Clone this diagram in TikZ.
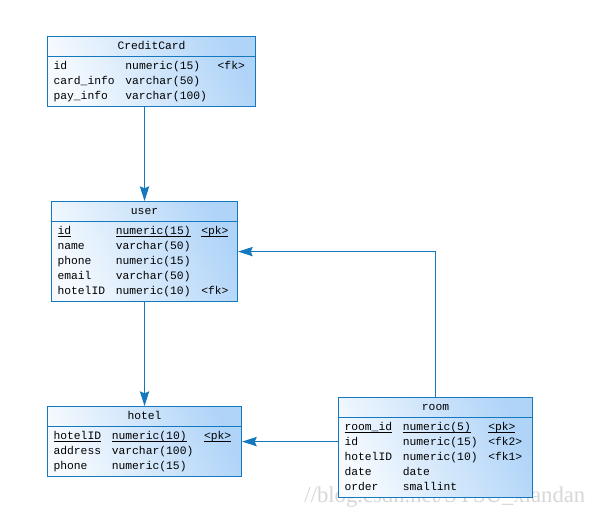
\documentclass[tikz,border=0pt]{standalone}
\usepackage{fontspec}
\setmonofont{Liberation Mono}
\newfontfamily\wmfont{Liberation Serif}
\definecolor{erline}{RGB}{20,120,190}
\definecolor{erfill}{RGB}{176,212,248}
\definecolor{erwm} {RGB}{215,215,215}
\usepackage{tikz}
\usetikzlibrary{arrows.meta,positioning,shapes.multipart}
\newcommand{\pk}[1]{\setbox0\hbox{#1}\rlap{\rule[-1.3pt]{\wd0}{0.5pt}}\box0}

\begin{document}
\begin{tikzpicture}[
        x=0.75pt, y=-0.75pt,
        every node/.style={font=\ttfamily\fontsize{8.5}{11.25}\selectfont},
        tbl/.style={rectangle split, rectangle split parts=2, draw=erline,
                    line width=0.8pt, left color=erfill!12!white, right color=erfill,
                    shading angle=115, anchor=north west,
                    rectangle split part align={center,left},
                    inner xsep=4.5pt, inner ysep=1.5pt},
        arr/.style={-{Stealth[length=11pt,width=7pt,inset=1.5pt]}, color=erline, line width=0.8pt}
      ]
        \useasboundingbox (0,0) rectangle (596,521);

        % watermark (behind the tables)
        \node[font=\wmfont\fontsize{17}{17}\selectfont, text=erwm, anchor=south east]
          (wm) at (590,512) {//blog.csdn.net/SYSU\_xiandan};

        % CreditCard
        \node[tbl, minimum width=156pt] (cc) at (47,36)
          {\strut CreditCard
           \nodepart{two}
           \begin{tabular}{@{}l@{\hspace{8pt}}l@{\hspace{8pt}}l@{}}
             id        & numeric(15)  & <fk> \\
             card\_info & varchar(50)  & \\
             pay\_info  & varchar(100) &
           \end{tabular}};

        % user
        \node[tbl, minimum width=139.5pt] (user) at (51,201)
          {\strut user
           \nodepart{two}
           \begin{tabular}{@{}l@{\hspace{8pt}}l@{\hspace{8pt}}l@{}}
             \pk{id}  & \pk{numeric(15)} & \pk{<pk>} \\
             name     & varchar(50) & \\
             phone    & numeric(15) & \\
             email    & varchar(50) & \\
             hotelID  & numeric(10) & <fk>
           \end{tabular}};

        % hotel
        \node[tbl, minimum width=145.5pt] (hotel) at (47,406)
          {\strut hotel
           \nodepart{two}
           \begin{tabular}{@{}l@{\hspace{8pt}}l@{\hspace{8pt}}l@{}}
             \pk{hotelID} & \pk{numeric(10)} & \pk{<pk>} \\
             address      & varchar(100) & \\
             phone        & numeric(15)  &
           \end{tabular}};

        % room
        \node[tbl, minimum width=145.5pt] (room) at (338,397)
          {\strut room
           \nodepart{two}
           \begin{tabular}{@{}l@{\hspace{8pt}}l@{\hspace{8pt}}l@{}}
             \pk{room\_id} & \pk{numeric(5)} & \pk{<pk>} \\
             id            & numeric(15) & <fk2> \\
             hotelID       & numeric(10) & <fk1> \\
             date          & date        & \\
             order         & smallint    &
           \end{tabular}};

        % references
        \draw[arr] (cc.south -| user.north) -- (user.north);
        \draw[arr] (user.south) -- (hotel.north);
        \draw[arr] (room.north) |- (user.east);
        \draw[arr] (hotel.east -| room.west) -- (hotel.east);

      \end{tikzpicture}
\end{document}
